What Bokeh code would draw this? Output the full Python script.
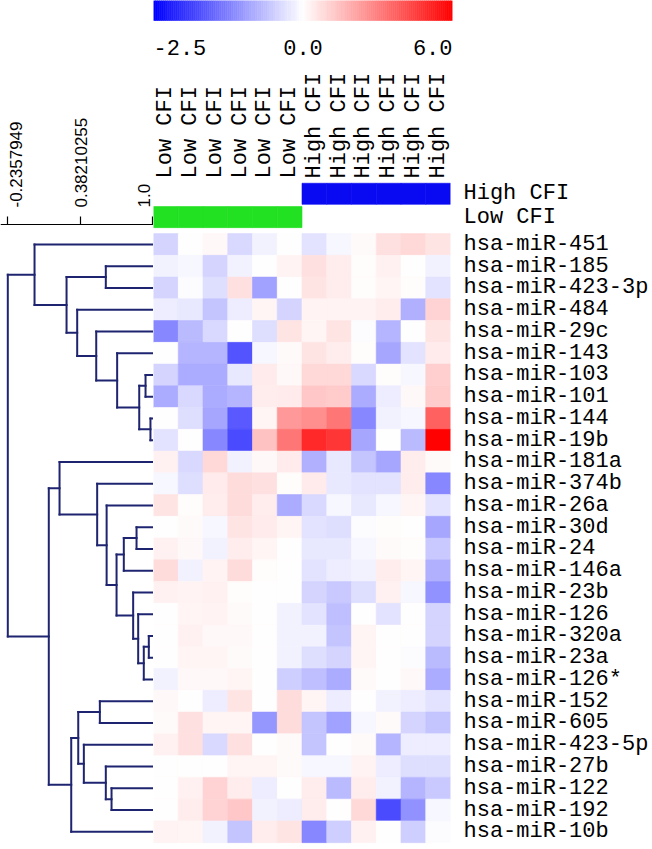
import numpy as np
from bokeh.plotting import figure
from bokeh.models import ColumnDataSource, Range1d, FixedTicker, LinearColorMapper
from bokeh.transform import transform
from bokeh.layouts import column, row
from bokeh.embed import file_html
from bokeh.resources import INLINE
from bokeh.core.properties import value

# ---------------- data ----------------
mirnas = ["hsa-miR-451", "hsa-miR-185", "hsa-miR-423-3p", "hsa-miR-484", "hsa-miR-29c",
          "hsa-miR-143", "hsa-miR-103", "hsa-miR-101", "hsa-miR-144", "hsa-miR-19b",
          "hsa-miR-181a", "hsa-miR-374b", "hsa-miR-26a", "hsa-miR-30d", "hsa-miR-24",
          "hsa-miR-146a", "hsa-miR-23b", "hsa-miR-126", "hsa-miR-320a", "hsa-miR-23a",
          "hsa-miR-126*", "hsa-miR-152", "hsa-miR-605", "hsa-miR-423-5p", "hsa-miR-27b",
          "hsa-miR-122", "hsa-miR-192", "hsa-miR-10b"]
samples = ["Low CFI"] * 6 + ["High CFI"] * 6
group_names = ["High CFI", "Low CFI"]

# expression values per miRNA (12 samples each)
v_451   = [-0.45, 0.0, 0.15, -0.4, -0.15, 0.0, -0.3, -0.1, 0.1, 0.7, 0.9, 0.6]
v_185   = [-0.15, -0.1, -0.45, -0.15, 0.0, 0.25, 0.7, 0.4, 0.05, 0.3, 0.0, -0.15]
v_423_3p = [-0.45, -0.05, -0.35, 0.7, -0.95, 0.0, 0.6, 0.4, 0.05, 0.2, 0.05, -0.3]
v_484   = [-0.2, -0.25, -0.6, -0.2, 0.2, -0.45, 0.25, 0.25, 0.25, 0.4, -0.8, 1.0]
v_29c   = [-1.2, -0.7, -0.4, 0.0, -0.35, 0.6, 0.2, 0.6, -0.05, -0.75, 0.0, 0.6]
v_143   = [0.0, -0.75, -0.75, -1.7, -0.1, 0.1, 0.6, 0.4, 0.05, -0.9, -0.3, 0.5]
v_103   = [-0.45, -0.85, -0.85, -0.25, 0.5, 0.15, 0.9, 0.9, -0.4, 0.05, -0.1, 1.1]
v_101   = [-0.85, -0.4, -0.85, -0.75, 0.4, 0.45, 1.3, 1.2, -0.85, -0.2, 0.15, 1.2]
v_144   = [0.0, -0.35, -0.9, -1.6, 0.2, 2.4, 2.6, 3.2, -1.2, -0.15, -0.1, 3.7]
v_19b   = [-0.3, 0.0, -1.2, -1.75, 1.4, 3.2, 5.0, 4.7, -0.9, 0.0, -0.7, 6.0]
v_181a  = [0.3, -0.4, 0.9, -0.15, 0.15, 0.5, -0.8, -0.25, -0.6, -0.9, 0.4, 0.1]
v_374b  = [-0.1, -0.35, 0.5, 0.8, 0.7, 0.05, 0.5, -0.25, -0.3, -0.3, 0.4, -1.2]
v_26a   = [0.6, 0.05, 0.4, 0.8, 0.4, -0.85, -0.4, -0.1, -0.25, -0.1, 0.2, -0.3]
v_30d   = [0.0, 0.1, -0.1, 0.6, 0.5, 0.2, -0.3, -0.35, -0.05, 0.05, 0.0, -0.9]
v_24    = [0.3, 0.15, -0.15, 0.4, 0.2, 0.0, -0.25, -0.25, -0.1, 0.1, 0.05, -0.55]
v_146a  = [0.8, -0.15, 0.25, 0.8, 0.05, 0.0, -0.3, -0.2, -0.15, 0.4, 0.2, -0.8]
v_23b   = [0.3, 0.25, 0.3, 0.05, 0.0, 0.0, -0.45, -0.55, -0.35, 0.3, -0.1, -1.1]
v_126   = [0.0, 0.2, 0.25, 0.1, 0.0, -0.15, -0.3, -0.65, 0.0, -0.3, 0.0, -0.45]
v_320a  = [0.0, 0.3, 0.15, 0.15, 0.0, -0.15, -0.15, -0.6, 0.2, 0.0, 0.0, -0.45]
v_23a   = [0.0, 0.2, 0.2, 0.1, 0.0, -0.15, -0.35, -0.45, 0.2, 0.0, -0.05, -0.7]
v_126s  = [-0.15, 0.15, 0.15, 0.2, 0.0, -0.5, -0.65, -0.85, 0.1, 0.0, 0.15, -0.85]
v_152   = [0.15, 0.0, -0.2, 0.6, 0.0, 0.8, 0.2, -0.2, 0.0, -0.15, -0.2, -0.3]
v_605   = [0.1, 0.7, 0.2, 0.2, -1.0, 0.8, -0.6, -0.95, -0.1, 0.1, -0.45, -0.6]
v_423_5p = [0.3, 0.7, -0.4, 0.7, 0.0, 0.1, -0.6, 0.0, 0.1, -0.75, -0.2, -0.2]
v_27b   = [0.0, 0.0, 0.0, 0.2, 0.2, 0.1, -0.1, -0.1, 0.25, -0.2, -0.35, -0.35]
v_122   = [0.0, 0.3, 1.0, 0.4, -0.2, 0.0, 0.4, -0.7, 0.4, -0.15, -0.75, -0.55]
v_192   = [0.0, 0.4, 1.0, 1.3, -0.15, -0.2, 0.4, 0.0, 0.9, -1.8, -1.1, -0.1]
v_10b   = [0.25, 0.2, -0.15, -0.6, 0.4, 0.6, -1.2, -0.5, 0.3, 0.0, -0.5, -0.05]

row_values = [v_451, v_185, v_423_3p, v_484, v_29c, v_143, v_103, v_101, v_144, v_19b,
              v_181a, v_374b, v_26a, v_30d, v_24, v_146a, v_23b, v_126, v_320a, v_23a,
              v_126s, v_152, v_605, v_423_5p, v_27b, v_122, v_192, v_10b]

# dendrogram (similarity scale), merges create nodes 28, 29, ...
merge_left   = [8, 6, 29, 5, 4, 3, 1, 34, 0, 18, 37, 17, 16, 13, 15, 42, 12, 11, 10, 21, 25, 24, 23, 47, 51, 46, 36]
merge_right  = [9, 7, 28, 30, 31, 32, 2, 33, 35, 19, 20, 38, 39, 14, 41, 40, 43, 44, 45, 22, 26, 48, 49, 50, 27, 52, 53]
merge_height = [0.985, 0.943, 0.889, 0.700, 0.521, 0.358, 0.603, 0.267, -0.007, 0.971, 0.928, 0.880,
                0.837, 0.866, 0.757, 0.695, 0.610, 0.529, 0.207, 0.552, 0.652, 0.603, 0.415, 0.367,
                0.307, 0.115, -0.2357949]
dend_ticks = [-0.2357949, 0.38210255, 1.0]
dend_tick_labels = ["-0.2357949", "0.38210255", "1.0"]

scale_ticks = [-2.5, 0.0, 6.0]
scale_tick_labels = ["-2.5", "0.0", "6.0"]

# ---------------- styling ----------------
MONO = "Liberation Mono"
FS = "22px"
DEND_COLOR = "#1f2470"
GREEN = "#22e022"
BLUE = "#0a0af2"

# two-segment colour mapping: blue -> white for [-2.5, 0], white -> red for [0, 6]
step = 0.05
n_neg = int(round(2.5 / step))
n_pos = int(round(6.0 / step))
palette = []
for i in range(n_neg):
    v = -2.5 + (i + 0.5) * step
    t = -v / 2.5
    g = int(round(255 * (1 - t)))
    palette.append("#%02x%02x%02x" % (g, g, 255))
for i in range(n_pos):
    v = (i + 0.5) * step
    t = v / 6.0
    g = int(round(255 * (1 - t)))
    palette.append("#%02x%02x%02x" % (255, g, g))
mapper = LinearColorMapper(palette=palette, low=-2.5, high=6.0)

# ---------------- colour scale bar ----------------
cbar = figure(width=651, height=64, x_range=Range1d(0, 1), y_range=Range1d(-2.2, 1.0),
              min_border_left=153, min_border_right=199, min_border_top=0, min_border_bottom=0,
              toolbar_location=None, output_backend="svg")
nb = 75
bx, bv = [], []
for i in range(nb):
    f = (i + 0.5) / nb
    bx.append(0.5 * f)
    bv.append(scale_ticks[0] + (scale_ticks[1] - scale_ticks[0]) * f)
for i in range(nb):
    f = (i + 0.5) / nb
    bx.append(0.5 + 0.5 * f)
    bv.append(scale_ticks[1] + (scale_ticks[2] - scale_ticks[1]) * f)
bsrc = ColumnDataSource(dict(x=bx, v=bv))
cbar.rect(x="x", y=0.5, width=1.0 / (2 * nb), height=1.0, source=bsrc,
          fill_color=transform("v", mapper), line_color=transform("v", mapper), line_width=0.6)
for xpos, lab, al in zip([0.0, 0.5, 1.0], scale_tick_labels, ["left", "center", "right"]):
    cbar.text(x=[xpos], y=[-1.35], text=[lab], text_align=al, text_baseline="middle",
              text_font=value(MONO), text_font_size=FS, text_color="black")
cbar.axis.visible = False
cbar.grid.visible = False
cbar.outline_line_color = None

# ---------------- heatmap ----------------
HIGH_Y, LOW_Y, BAND_H = -2.33, -1.26, 0.97
BAND_TOP = -2.85
DEND_AXIS_Y = -0.919
yr = Range1d(27.77, -8.275)
heat = figure(width=498, height=784, x_range=Range1d(-0.5, 11.5), y_range=yr,
              x_axis_location="above", y_axis_location="right",
              min_border_left=0, min_border_right=199, min_border_top=0, min_border_bottom=0,
              toolbar_location=None, output_backend="svg")
xs, ys, vs = [], [], []
for r, vals in enumerate(row_values):
    for c, v in enumerate(vals):
        xs.append(c)
        ys.append(r)
        vs.append(v)
hsrc = ColumnDataSource(dict(x=xs, y=ys, v=vs))
heat.rect(x="x", y="y", width=1, height=1, source=hsrc,
          fill_color=transform("v", mapper), line_color=transform("v", mapper), line_width=0.6)

low_cols = [i for i, s in enumerate(samples) if s == "Low CFI"]
high_cols = [i for i, s in enumerate(samples) if s == "High CFI"]
heat.rect(x=low_cols, y=LOW_Y, width=1, height=BAND_H, fill_color=GREEN, line_color=GREEN, line_width=0.6)
heat.rect(x=high_cols, y=HIGH_Y, width=1, height=BAND_H, fill_color=BLUE, line_color=BLUE, line_width=0.6)

heat.xaxis.fixed_location = BAND_TOP
heat.xaxis.ticker = FixedTicker(ticks=list(range(len(samples))))
heat.xaxis.major_label_overrides = {i: s for i, s in enumerate(samples)}
heat.xaxis.major_label_orientation = "vertical"
heat.yaxis.ticker = FixedTicker(ticks=[HIGH_Y, LOW_Y] + list(range(len(mirnas))))
yover = {HIGH_Y: group_names[0], LOW_Y: group_names[1]}
yover.update({i: m for i, m in enumerate(mirnas)})
heat.yaxis.major_label_overrides = yover
for ax in (heat.xaxis, heat.yaxis):
    ax.axis_line_color = None
    ax.major_tick_line_color = None
    ax.minor_tick_line_color = None
    ax.major_tick_out = 0
    ax.major_tick_in = 0
    ax.major_label_text_font = MONO
    ax.major_label_text_font_size = FS
    ax.major_label_text_color = "black"
heat.xaxis.major_label_standoff = 4
heat.yaxis.major_label_standoff = 13
heat.grid.visible = False
heat.outline_line_color = None

# ---------------- dendrogram ----------------
n_leaf = len(mirnas)
pos = {i: float(i) for i in range(n_leaf)}
hgt = {i: 1.0 for i in range(n_leaf)}
sx0, sy0, sx1, sy1 = [], [], [], []
for k, (a, b, h) in enumerate(zip(merge_left, merge_right, merge_height)):
    nid = n_leaf + k
    sx0.append(h); sy0.append(pos[a]); sx1.append(h); sy1.append(pos[b])
    for ch in (a, b):
        sx0.append(h); sy0.append(pos[ch]); sx1.append(hgt[ch]); sy1.append(pos[ch])
    pos[nid] = (pos[a] + pos[b]) / 2.0
    hgt[nid] = h

dend = figure(width=153, height=784, x_range=Range1d(-0.2983, 1.0111), y_range=yr,
              x_axis_location="above", y_axis_location=None,
              min_border_left=0, min_border_right=0, min_border_top=0, min_border_bottom=0,
              toolbar_location=None, output_backend="svg")
dend.segment(x0=sx0, y0=sy0, x1=sx1, y1=sy1, line_color=DEND_COLOR, line_width=2, line_cap="square")
dend.xaxis.fixed_location = DEND_AXIS_Y
dend.xaxis.ticker = FixedTicker(ticks=dend_ticks)
dend.xaxis.major_label_text_color = None
dend.xaxis.axis_line_color = "black"
dend.xaxis.axis_line_width = 1.2
dend.xaxis.major_tick_line_color = "black"
dend.xaxis.major_tick_line_width = 1.2
dend.xaxis.major_tick_out = 8
dend.xaxis.major_tick_in = 0
dend.xaxis.minor_tick_line_color = None
lsrc = ColumnDataSource(dict(x=dend_ticks, text=dend_tick_labels, dx=[8, 1, -8]))
dend.text(x="x", y=DEND_AXIS_Y - 0.78, text="text", source=lsrc, x_offset="dx",
          angle=np.pi / 2, text_align="left", text_baseline="middle",
          text_font=value("Liberation Sans"), text_font_size="17px", text_color="black")
dend.grid.visible = False
dend.outline_line_color = None

layout = column(cbar, row(dend, heat, spacing=0), spacing=0)
open("out.html", "w").write(file_html(layout, INLINE))
